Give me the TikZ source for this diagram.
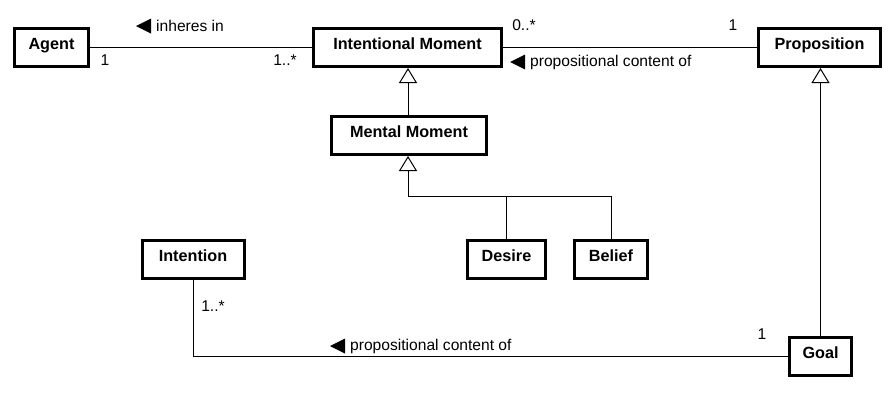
\documentclass[tikz,border=0pt]{standalone}
\usepackage{fontspec}
\setmainfont{Liberation Sans}
\usetikzlibrary{arrows.meta}
\begin{document}
\begin{tikzpicture}[x=1pt,y=-1pt,
  cls/.style={draw=black,line width=3pt,fill=white,minimum height=38pt,inner sep=0pt,
    text height=12pt,text depth=9pt,
    font=\fontsize{16.2}{19}\selectfont\bfseries},
  conn/.style={draw=black,line width=1pt},
  gen/.style={conn,-{Triangle[open,width=18pt,length=15pt,line width=1pt,fill=white]}},
  lbl/.style={inner sep=0pt,font=\fontsize{15.6}{18}\selectfont},
  dtri/.style={fill=black}
]
\useasboundingbox (0,0) rectangle (894,402);
% classes
\node[cls,minimum width=74pt] (agent) at (51.5,47.5) {Agent};
\node[cls,minimum width=188pt] (im) at (407.5,47.5) {Intentional Moment};
\node[cls,minimum width=155pt] (mm) at (409,135.5) {Mental Moment};
\node[cls,minimum width=122pt] (prop) at (819.5,47.5) {Proposition};
\node[cls,minimum width=102pt] (intention) at (193,259.5) {Intention};
\node[cls,minimum width=78pt] (desire) at (506.5,259.5) {Desire};
\node[cls,minimum width=73pt] (belief) at (611,259.5) {Belief};
\node[cls,minimum width=62pt] (goal) at (820.5,356.5) {Goal};
% associations
\draw[conn] (agent.east) -- (im.west);
\draw[conn] (im.east) -- (prop.west);
\draw[conn] (intention.south) |- (goal.west);
% generalizations
\coordinate (bar) at (408,196);
\draw[gen] (mm.north -| 408,0) -- (im.south -| 408,0);
\draw[conn] (desire.north) -- (desire.north |- bar);
\draw[gen] (belief.north) |- (bar) -- (mm.south -| bar);
\draw[gen] (goal.north) -- (goal.north |- prop.south);
% labels
\node[lbl,anchor=west] (inh) at (156,26) {inheres in};
\fill[dtri] ([xshift=-5pt]inh.west) ++(0,-7.5) -- ++(0,15) -- ++(-15,-7.5) -- cycle;
\node[lbl] (m1) at (105,60) {1};
\node[lbl] (m2) at (285,60) {1..*};
\node[lbl] (m3) at (524,25) {0..*};
\node[lbl] (m4) at (733,25) {1};
\node[lbl,anchor=west] (pc1) at (530,62) {propositional content of};
\fill[dtri] ([xshift=-5pt]pc1.west) ++(0,-7.5) -- ++(0,15) -- ++(-15,-7.5) -- cycle;
\node[lbl,anchor=west] (pc2) at (350,346) {propositional content of};
\fill[dtri] ([xshift=-5pt]pc2.west) ++(0,-7.5) -- ++(0,15) -- ++(-15,-7.5) -- cycle;
\node[lbl] (m5) at (213,306) {1..*};
\node[lbl] (m6) at (762,334) {1};
\end{tikzpicture}
\end{document}
